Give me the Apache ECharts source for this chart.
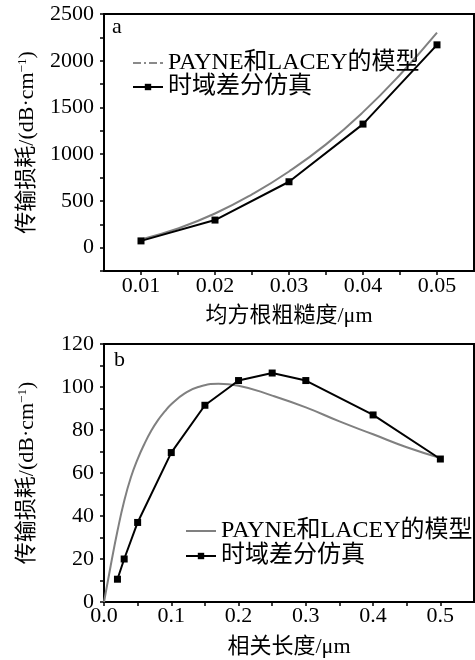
<!DOCTYPE html>
<html>
<head>
<meta charset="utf-8">
<script src="https://cdn.jsdelivr.net/npm/echarts@6/dist/echarts.min.js"></script>
<style>
html,body{margin:0;padding:0;background:#fff;}
#chart{width:475px;height:660px;}
</style>
</head>
<body>
<div id="chart"></div>
<script>
// ---- Data ----
var modelName = 'PAYNE和LACEY的模型';
var simName = '时域差分仿真';

// Panel a: RMS roughness (um) vs loss (dB/cm)
var aModelX = [0.01, 0.015, 0.02, 0.025, 0.03, 0.035, 0.04, 0.045, 0.05];
var aModelY = [88, 205, 365, 570, 815, 1105, 1450, 1850, 2300];
var aSimX = [0.01, 0.02, 0.03, 0.04, 0.05];
var aSimY = [72, 295, 705, 1322, 2170];

// Panel b: correlation length (um) vs loss (dB/cm)
var bModelX = [0, 0.01, 0.02, 0.03, 0.04, 0.05, 0.06, 0.07, 0.08, 0.09, 0.1, 0.12, 0.14, 0.17, 0.2, 0.25, 0.3, 0.35, 0.4, 0.45, 0.5];
var bModelY = [0, 17, 33, 47, 58, 66.5, 73.5, 79.5, 84.5, 88.5, 92, 97, 100, 101.5, 100.6, 96, 90.5, 84, 78, 72, 67];
var bSimX = [0.02, 0.03, 0.05, 0.1, 0.15, 0.2, 0.25, 0.3, 0.4, 0.5];
var bSimY = [10.6, 20, 37, 69.5, 91.5, 103, 106.5, 103, 87, 66.5];

function zip(xs, ys){ return xs.map(function(x,i){ return [x, ys[i]]; }); }

var serif = '"Liberation Serif", "Times New Roman", "Noto Sans CJK SC", serif';
var tickFont = 22;

function axisBase(){
  return {
    axisLine: {show: true, onZero: false, lineStyle: {color: '#000', width: 2}},
    axisTick: {show: true, inside: false, length: 4, lineStyle: {color: '#000', width: 1.5}},
    splitLine: {show: false},
    axisLabel: {color: '#000', fontFamily: serif, fontSize: tickFont}
  };
}

function yName(){
  return {
    name: '传输损耗/(dB·cm{sup|−1})',
    nameLocation: 'middle',
    nameGap: 66,
    nameTextStyle: {
      color: '#000', fontFamily: serif, fontSize: 22, lineHeight: 22,
      rich: {sup: {fontSize: 13, lineHeight: 13, verticalAlign: 'top', fontFamily: serif, color: '#000'}}
    }
  };
}

var chart = echarts.init(document.getElementById('chart'), null, {renderer: 'canvas'});

var xa = Object.assign(axisBase(), {
  type: 'value', gridIndex: 0, min: 0.005, max: 0.055, interval: 0.005,
  name: '均方根粗糙度/μm', nameLocation: 'middle', nameGap: 34,
  nameTextStyle: {color: '#000', fontFamily: serif, fontSize: 22}
});
xa.axisLabel = Object.assign(xa.axisLabel, {margin: 4, showMinLabel: false, showMaxLabel: false,
  formatter: function(v){ return Math.round(v*200) % 2 === 0 ? v.toFixed(2) : ''; }});

var ya = Object.assign(axisBase(), yName(), {
  type: 'value', gridIndex: 0, min: -250, max: 2500, interval: 250
});
ya.axisLabel = Object.assign(ya.axisLabel, {margin: 10,
  formatter: function(v){ return (Math.round(v) % 500 === 0) ? String(Math.round(v)) : ''; }});

var xb = Object.assign(axisBase(), {
  type: 'value', gridIndex: 1, min: 0, max: 0.55, interval: 0.05,
  name: '相关长度/μm', nameLocation: 'middle', nameGap: 34,
  nameTextStyle: {color: '#000', fontFamily: serif, fontSize: 22}
});
xb.axisLabel = Object.assign(xb.axisLabel, {margin: 3, showMaxLabel: false,
  formatter: function(v){ return Math.round(v*20) % 2 === 0 ? v.toFixed(1) : ''; }});

var yb = Object.assign(axisBase(), yName(), {
  type: 'value', gridIndex: 1, min: 0, max: 120, interval: 10
});
yb.axisLabel = Object.assign(yb.axisLabel, {margin: 10,
  formatter: function(v){ return (Math.round(v) % 20 === 0) ? String(Math.round(v)) : ''; }});

var dashDotIcon = 'path://M0,0h8v2h-8zM11,0h2v2h-2zM16,0h8v2h-8zM27,0h3v2h-3z';
var solidIcon = 'path://M0,0h30v2h-30z';

var option = {
  animation: false,
  backgroundColor: '#fff',
  grid: [
    {left: 104, top: 14, width: 370, height: 257, show: true, borderColor: '#000', borderWidth: 2, backgroundColor: 'transparent'},
    {left: 104, top: 344, width: 370, height: 258, show: true, borderColor: '#000', borderWidth: 2, backgroundColor: 'transparent'}
  ],
  xAxis: [xa, xb],
  yAxis: [ya, yb],
  legend: [
    {
      orient: 'vertical', left: 127, top: 46, itemWidth: 30, itemHeight: 8, itemGap: 0,
      symbolKeepAspect: true,
      textStyle: {color: '#000', fontFamily: serif, fontSize: 24, lineHeight: 21},
      data: [
        {name: modelName, icon: dashDotIcon, itemStyle: {color: '#8a8a8a'}},
        {name: simName}
      ],
      selectedMode: false
    },
    {
      orient: 'vertical', left: 180, top: 514, itemWidth: 30, itemHeight: 8, itemGap: 1,
      symbolKeepAspect: true,
      textStyle: {color: '#000', fontFamily: serif, fontSize: 24, lineHeight: 24},
      data: [{name: modelName, icon: solidIcon, itemStyle: {color: '#808080'}}, {name: simName}],
      selectedMode: false
    }
  ],
  graphic: [
    {type: 'text', left: 112, top: 16, style: {text: 'a', font: '22px ' + serif, fill: '#000'}},
    {type: 'text', left: 114, top: 349, style: {text: 'b', font: '22px ' + serif, fill: '#000'}}
  ],
  series: [
    {name: modelName, type: 'line', xAxisIndex: 0, yAxisIndex: 0, data: zip(aModelX, aModelY),
     smooth: true, symbol: 'none', lineStyle: {color: '#808080', width: 2}, itemStyle: {color: '#808080'}, z: 2},
    {name: simName, type: 'line', xAxisIndex: 0, yAxisIndex: 0, data: zip(aSimX, aSimY),
     symbol: 'rect', symbolSize: 7, lineStyle: {color: '#000', width: 2}, itemStyle: {color: '#000'}, z: 3},
    {name: modelName, type: 'line', xAxisIndex: 1, yAxisIndex: 1, data: zip(bModelX, bModelY),
     smooth: true, symbol: 'none', lineStyle: {color: '#808080', width: 2}, itemStyle: {color: '#808080'}, z: 2},
    {name: simName, type: 'line', xAxisIndex: 1, yAxisIndex: 1, data: zip(bSimX, bSimY),
     symbol: 'rect', symbolSize: 7, lineStyle: {color: '#000', width: 2}, itemStyle: {color: '#000'}, z: 3}
  ]
};
chart.setOption(option);
</script>
</body>
</html>
